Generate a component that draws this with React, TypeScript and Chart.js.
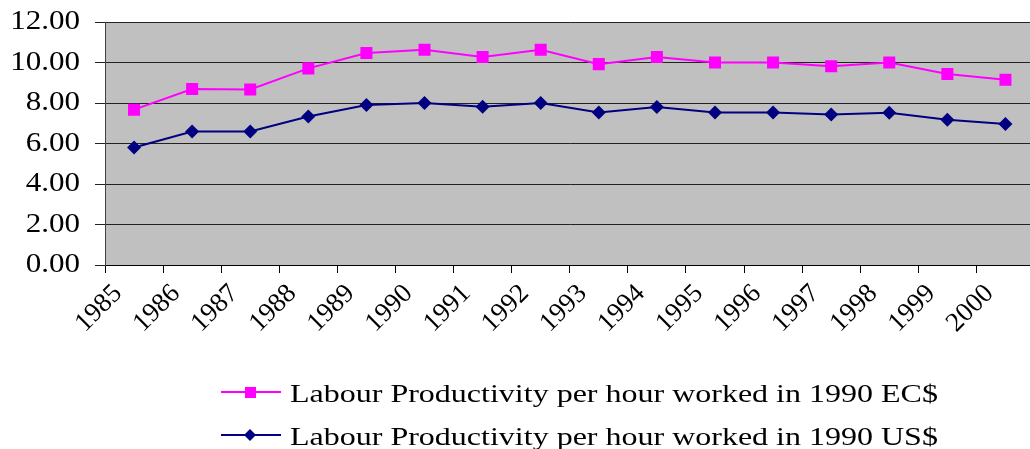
import React, { useEffect, useRef } from 'react';
import { Chart, registerables } from 'chart.js';

Chart.register(...registerables);

const years = ['1985', '1986', '1987', '1988', '1989', '1990', '1991', '1992', '1993', '1994', '1995', '1996', '1997', '1998', '1999', '2000'];
const ecValues = [7.67, 8.69, 8.67, 9.71, 10.47, 10.63, 10.27, 10.63, 9.92, 10.27, 10.0, 10.0, 9.81, 10.0, 9.43, 9.15];
const usValues = [5.8, 6.59, 6.59, 7.33, 7.9, 8.0, 7.81, 8.0, 7.53, 7.8, 7.53, 7.53, 7.43, 7.52, 7.17, 6.96];
const seriesNames = [
  'Labour Productivity per hour worked in 1990 EC$',
  'Labour Productivity per hour worked in 1990 US$',
];

const FONT = "'Liberation Serif', 'Times New Roman', serif";

const plotBg = {
  id: 'plotBg',
  beforeDraw(chart: any) {
    const { ctx, chartArea } = chart;
    ctx.save();
    ctx.fillStyle = '#C0C0C0';
    ctx.fillRect(chartArea.left, chartArea.top, chartArea.right - chartArea.left, chartArea.bottom - chartArea.top);
    ctx.strokeStyle = '#999999';
    ctx.lineWidth = 1;
    ctx.beginPath();
    ctx.moveTo(chartArea.left, chartArea.top + 0.5);
    ctx.lineTo(chartArea.right, chartArea.top + 0.5);
    ctx.stroke();
    ctx.restore();
  },
};

// Draws the y tick labels (taken from the y scale) slightly widened, like the reference.
const yLabels = {
  id: 'yLabels',
  afterDraw(chart: any) {
    const ctx = chart.ctx;
    const ys = chart.scales.y;
    ys.ticks.forEach((t: any, i: number) => {
      const py = ys.getPixelForTick(i);
      ctx.save();
      ctx.translate(80, py);
      ctx.scale(1.15, 1);
      ctx.fillStyle = '#000';
      ctx.font = `27px ${FONT}`;
      ctx.textAlign = 'right';
      ctx.textBaseline = 'middle';
      ctx.fillText(String(t.label), 0, 0);
      ctx.restore();
    });
  },
};

const customLegend = {
  id: 'customLegend',
  afterDraw(chart: any) {
    const ctx = chart.ctx;
    const rows = [392, 435];
    chart.data.datasets.forEach((ds: any, i: number) => {
      const y = rows[i];
      ctx.save();
      ctx.strokeStyle = ds.borderColor;
      ctx.fillStyle = ds.borderColor;
      ctx.lineWidth = 2;
      ctx.beginPath();
      ctx.moveTo(221, y);
      ctx.lineTo(281, y);
      ctx.stroke();
      ctx.beginPath();
      if (ds.pointStyle === 'rect') {
        ctx.rect(245, y - 5, 11, 11);
      } else {
        ctx.moveTo(250, y - 6);
        ctx.lineTo(256, y);
        ctx.lineTo(250, y + 6);
        ctx.lineTo(244, y);
        ctx.closePath();
      }
      ctx.fill();
      ctx.translate(290, y + 10);
      ctx.scale(1.28, 1);
      ctx.fillStyle = '#000';
      ctx.font = `25px ${FONT}`;
      ctx.textBaseline = 'alphabetic';
      ctx.textAlign = 'left';
      ctx.fillText(ds.label, 0, 0);
      ctx.restore();
    });
  },
};

export default function App() {
  const ref = useRef<HTMLCanvasElement | null>(null);
  useEffect(() => {
    if (!ref.current) return;
    const chart = new Chart(ref.current, {
      type: 'line',
      data: {
        labels: years,
        datasets: [
          {
            label: seriesNames[0],
            data: ecValues,
            borderColor: '#FF00FF',
            backgroundColor: '#FF00FF',
            borderWidth: 2,
            pointStyle: 'rect',
            pointRadius: 8.5,
            pointBorderWidth: 0,
            tension: 0,
          },
          {
            label: seriesNames[1],
            data: usValues,
            borderColor: '#000080',
            backgroundColor: '#000080',
            borderWidth: 2,
            pointStyle: 'rectRot',
            pointRadius: 7,
            pointBorderWidth: 0,
            tension: 0,
          },
        ],
      },
      options: {
        animation: false,
        responsive: true,
        maintainAspectRatio: false,
        layout: { padding: { top: 22, bottom: 100, left: 0, right: 0 } },
        plugins: { legend: { display: false }, tooltip: { enabled: false } },
        scales: {
          x: {
            type: 'category',
            offset: true,
            grid: { display: true, offset: true, drawOnChartArea: false, tickLength: 8, color: '#000' },
            border: { color: '#000', width: 1 },
            ticks: {
              autoSkip: false,
              maxRotation: 45,
              minRotation: 45,
              labelOffset: -16,
              padding: 5,
              color: '#000',
              font: { family: FONT, size: 27 },
            },
            afterFit(scale: any) {
              scale.height = 84;
            },
          },
          y: {
            min: 0,
            max: 12,
            ticks: {
              stepSize: 2,
              padding: 14,
              color: 'rgba(0,0,0,0)',
              font: { family: FONT, size: 27 },
              callback: (v: any) => Number(v).toFixed(2),
            },
            grid: { color: '#222', tickLength: 10, lineWidth: 1 },
            border: { color: '#404040', width: 1 },
            afterFit(scale: any) {
              scale.width = 105;
              scale.paddingTop = 0;
              scale.paddingBottom = 0;
            },
          },
        },
      },
      plugins: [plotBg, yLabels, customLegend],
    });
    return () => chart.destroy();
  }, []);
  return (
    <div style={{ position: 'fixed', left: 0, top: 0, width: 1030, height: 449, overflow: 'hidden', background: '#fff' }}>
      <div style={{ position: 'relative', width: 1043, height: 449 }}>
        <canvas ref={ref} />
      </div>
    </div>
  );
}
